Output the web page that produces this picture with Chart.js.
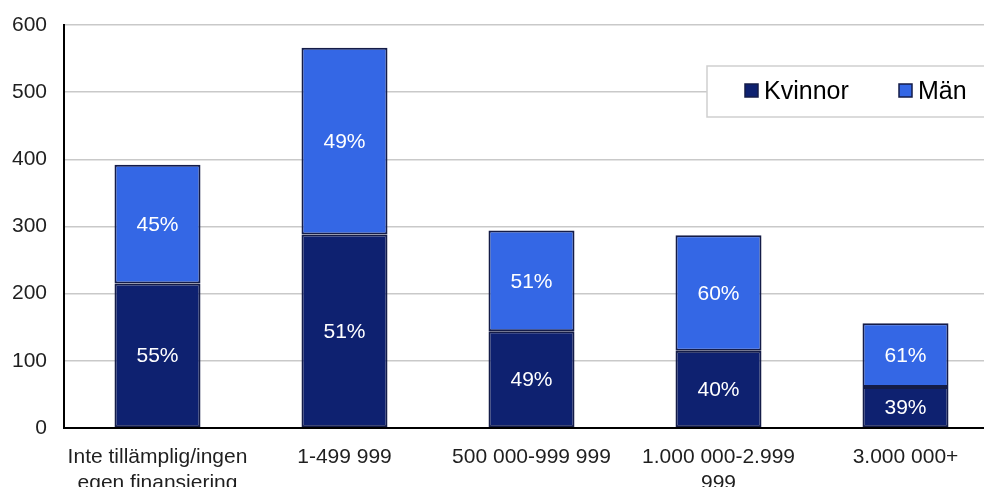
<!DOCTYPE html>
<html>
<head>
<meta charset="utf-8">
<script src="https://cdn.jsdelivr.net/npm/chart.js@4.4.1/dist/chart.umd.min.js"></script>
<style>
	html, body { margin: 0; padding: 0; background: #fff; overflow: hidden; }
	canvas { display: block; }
</style>
</head>
<body>
<canvas id="finansiering_chart" width="999" height="487"></canvas>
<script>
const categories = [
	["Inte tillämplig/ingen", "egen finansiering"],
	"1-499 999",
	"500 000-999 999",
	["1.000 000-2.999", "999"],
	"3.000 000+",
];
const kvinnor = [215, 288, 144, 115, 61];
const man = [177, 278, 150, 172, 95];
const yTicks = [0, 100, 200, 300, 400, 500, 600];

const FONT = "'Liberation Sans', Arial, sans-serif";
const colors = {
	kvinnor: "#0e2170",
	man: "#3467e5",
	border: "#141c48",
	grid: "#c9c9c9",
	text: "#1f1f1f",
};

// share of each segment within its bar, in whole percent
function share(datasetIndex, index, chart) {
	const sets = chart.data.datasets;
	let total = 0;
	sets.forEach(function(ds) { total += ds.data[index]; });
	return Math.round(sets[datasetIndex].data[index] / total * 100) + "%";
}

const segmentLabels = {
	id: "segmentLabels",
	afterDatasetsDraw: function(chart) {
		const ctx = chart.ctx;
		ctx.save();
		ctx.fillStyle = "#ffffff";
		ctx.font = "21px " + FONT;
		ctx.textAlign = "center";
		ctx.textBaseline = "middle";
		chart.data.datasets.forEach(function(ds, di) {
			chart.getDatasetMeta(di).data.forEach(function(bar, i) {
				const mid = (bar.y + bar.base) / 2;
				ctx.fillText(share(di, i, chart), bar.x, mid + 1);
			});
		});
		ctx.restore();
	}
};

// boxed legend sitting over the upper right of the plot
const boxLegend = {
	id: "boxLegend",
	afterDraw: function(chart) {
		const ctx = chart.ctx;
		const area = chart.chartArea;
		const left = area.left + 643;
		const top = area.top + 41;
		ctx.save();
		ctx.fillStyle = "#ffffff";
		ctx.strokeStyle = "#cfcfcf";
		ctx.lineWidth = 1.5;
		ctx.fillRect(left, top, 320, 51);
		ctx.strokeRect(left, top, 320, 51);

		ctx.font = "25px " + FONT;
		ctx.textBaseline = "middle";
		ctx.textAlign = "left";
		const slots = [38, 192];
		chart.data.datasets.forEach(function(ds, di) {
			const x = left + slots[di];
			const cy = top + 25;
			ctx.fillStyle = ds.backgroundColor;
			ctx.strokeStyle = colors.border;
			ctx.lineWidth = 1.5;
			ctx.fillRect(x, cy - 7, 13, 13);
			ctx.strokeRect(x, cy - 7, 13, 13);
			ctx.fillStyle = "#000000";
			ctx.fillText(ds.label, x + 19, cy + 1);
		});
		ctx.restore();
	}
};

new Chart(document.getElementById("finansiering_chart"), {
	type: "bar",
	data: {
		labels: categories,
		datasets: [
			{
				label: "Kvinnor",
				data: kvinnor,
				backgroundColor: colors.kvinnor,
				borderColor: colors.border,
				borderWidth: 2,
				borderSkipped: false,
			},
			{
				label: "Män",
				data: man,
				backgroundColor: colors.man,
				borderColor: colors.border,
				borderWidth: 2,
				borderSkipped: false,
			},
		]
	},
	options: {
		responsive: false,
		animation: false,
		events: [],
		layout: {padding: {top: 25, right: 0, left: 0, bottom: 0}},
		datasets: {
			bar: {barPercentage: 0.92, categoryPercentage: 0.5},
		},
		plugins: {
			legend: {display: false},
			tooltip: {enabled: false},
		},
		scales: {
			x: {
				stacked: true,
				grid: {display: false},
				border: {display: true, color: "#000000", width: 2, z: 1},
				ticks: {
					color: colors.text,
					font: {family: FONT, size: 21},
					padding: 9,
					maxRotation: 0,
					autoSkip: false,
				},
				afterFit: function(scale) {
					scale.height = 59;
					scale.paddingTop = 0;
					scale.paddingBottom = 0;
				},
			},
			y: {
				stacked: true,
				min: 0,
				max: 600,
				afterBuildTicks: function(scale) {
					scale.ticks = yTicks.map(function(v) { return {value: v}; });
				},
				grid: {color: colors.grid, lineWidth: 1.5, drawTicks: false},
				border: {display: true, color: "#000000", width: 2},
				ticks: {
					color: colors.text,
					font: {family: FONT, size: 21},
					padding: 17,
				},
				afterFit: function(scale) {
					scale.width = 64;
					scale.paddingTop = 0;
					scale.paddingBottom = 0;
				},
			}
		}
	},
	plugins: [segmentLabels, boxLegend]
});
</script>
</body>
</html>
